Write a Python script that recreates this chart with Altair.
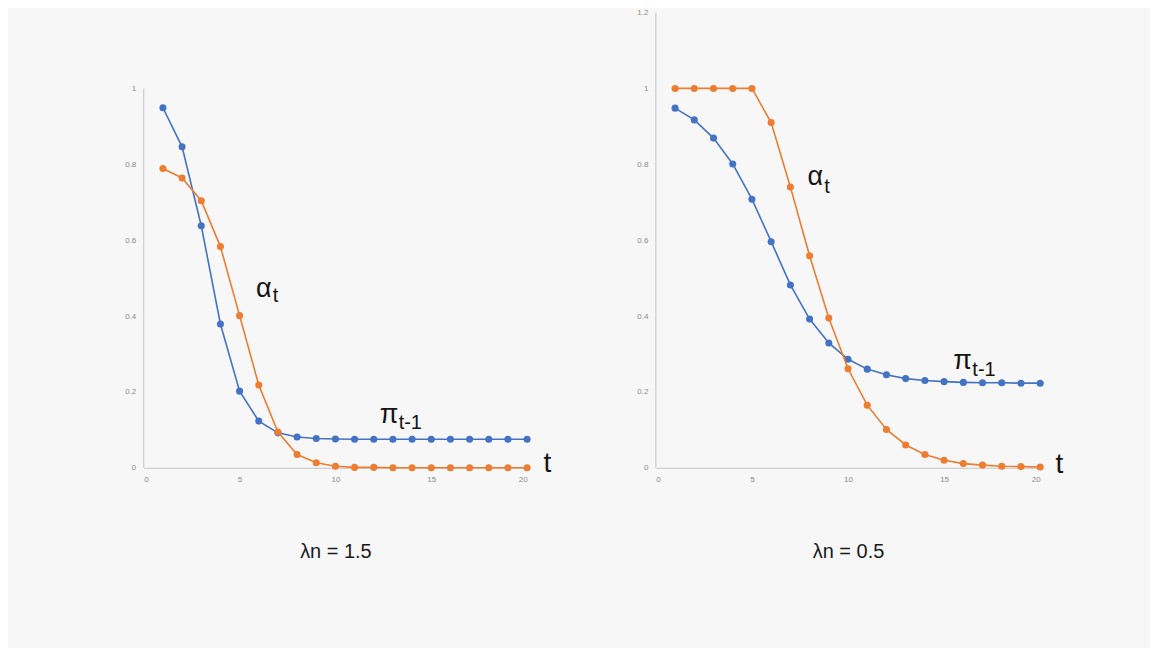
import altair as alt
import pandas as pd

# ---------------- data ----------------
t_vals = list(range(1, 21))

left_pi = [0.949, 0.846, 0.638, 0.379, 0.202, 0.123, 0.092, 0.081, 0.077, 0.076,
           0.075, 0.075, 0.075, 0.075, 0.075, 0.075, 0.075, 0.075, 0.075, 0.075]
left_alpha = [0.789, 0.764, 0.704, 0.583, 0.401, 0.218, 0.094, 0.035, 0.013, 0.004,
              0.001, 0.001, 0.0, 0.0, 0.0, 0.0, 0.0, 0.0, 0.0, 0.0]

right_pi = [0.948, 0.917, 0.869, 0.801, 0.708, 0.596, 0.482, 0.392, 0.329, 0.286,
            0.260, 0.245, 0.235, 0.230, 0.227, 0.225, 0.224, 0.224, 0.223, 0.223]
right_alpha = [1.0, 1.0, 1.0, 1.0, 1.0, 0.910, 0.740, 0.559, 0.395, 0.261,
               0.165, 0.101, 0.060, 0.035, 0.020, 0.011, 0.007, 0.004, 0.003, 0.002]

x_ticks = [0, 5, 10, 15, 20]
left_y_ticks = [0, 0.2, 0.4, 0.6, 0.8, 1]
right_y_ticks = [0, 0.2, 0.4, 0.6, 0.8, 1, 1.2]

left_title = "λn = 1.5"
right_title = "λn = 0.5"

ann_labels = ["α", "t", "π", "t-1", "t"]
ann_sizes = [27, 20, 27, 20, 28]
left_ann_x = [5.85, 6.73, 12.31, 13.30, 20.85]
left_ann_y = [0.451, 0.438, 0.119, 0.101, -0.012]
right_ann_x = [7.89, 8.76, 15.48, 16.47, 20.8]
right_ann_y = [0.7445, 0.7245, 0.261, 0.243, -0.015]

BLUE = "#4472C4"
ORANGE = "#ED7D31"
AXIS_GRAY = "#c3c3c3"
FONT = "Liberation Sans"


def panel(pi, alpha, y_ticks, title, ann_x, ann_y, width):
    df = pd.DataFrame({"t": t_vals, "pi": pi, "alpha": alpha})
    xenc = alt.X("t:Q", scale=alt.Scale(domain=[0, 20], nice=False),
                 axis=alt.Axis(values=x_ticks, title=title, format="~g"))
    yscale = alt.Scale(domain=[0, 1.2], nice=False)
    yaxis = alt.Axis(values=y_ticks, title=None, format="~g", domain=False)

    axis_line = alt.Chart(pd.DataFrame({"x": [0], "y0": [0], "y1": [max(y_ticks)]})).mark_rule(
        color=AXIS_GRAY, strokeWidth=1
    ).encode(
        x=alt.X("x:Q", scale=alt.Scale(domain=[0, 20], nice=False)),
        y=alt.Y("y0:Q", scale=yscale),
        y2="y1:Q",
    )

    base = alt.Chart(df).encode(x=xenc)
    blue = base.mark_line(color=BLUE, strokeWidth=1.6,
                          point=alt.OverlayMarkDef(filled=True, size=50, color=BLUE, opacity=1)).encode(
        y=alt.Y("pi:Q", scale=yscale, axis=yaxis)
    )
    orange = base.mark_line(color=ORANGE, strokeWidth=1.6,
                            point=alt.OverlayMarkDef(filled=True, size=50, color=ORANGE, opacity=1)).encode(
        y=alt.Y("alpha:Q", scale=yscale, axis=yaxis)
    )

    ann = alt.Chart(pd.DataFrame({"x": ann_x, "y": ann_y, "label": ann_labels, "fs": ann_sizes})).mark_text(
        align="left", baseline="alphabetic", font=FONT, color="#141414"
    ).encode(
        x=alt.X("x:Q", scale=alt.Scale(domain=[0, 20], nice=False)),
        y=alt.Y("y:Q", scale=yscale),
        text="label:N",
        size=alt.Size("fs:Q", scale=None),
    )

    return alt.layer(axis_line, blue, orange, ann).properties(width=width, height=456)


left = panel(left_pi, left_alpha, left_y_ticks, left_title, left_ann_x, left_ann_y, 384)
right = panel(right_pi, right_alpha, right_y_ticks, right_title, right_ann_x, right_ann_y, 385)

chart = alt.hconcat(left, right, spacing=129, bounds="flush").properties(
    background="#f7f7f7",
    padding={"left": 116, "top": 0, "right": 86, "bottom": 86},
).configure_view(
    strokeWidth=0
).configure_axis(
    grid=False,
    ticks=False,
    labelFont=FONT,
    labelFontSize=8,
    labelColor="#8a8a8a",
    labelPadding=8,
    domainColor=AXIS_GRAY,
    domainWidth=1,
    titleFont=FONT,
    titleFontSize=20,
    titleFontWeight="normal",
    titleColor="#1a1a1a",
    titlePadding=58,
)

chart.save("out.html", embed_options={"renderer": "svg", "actions": False})
